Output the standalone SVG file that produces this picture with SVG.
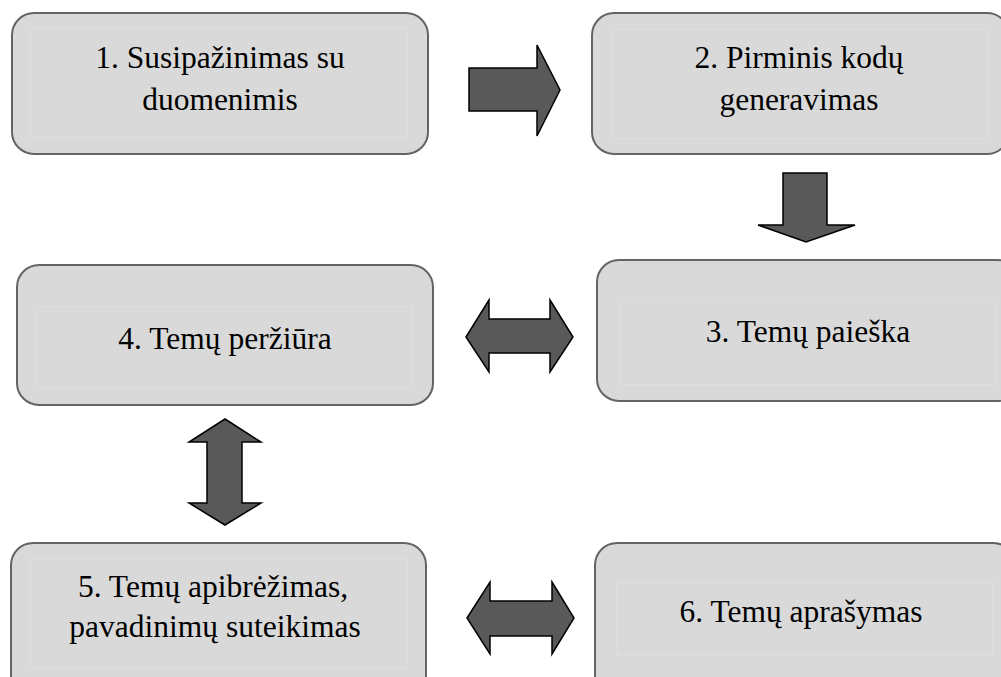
<svg xmlns="http://www.w3.org/2000/svg" width="1001" height="677" viewBox="0 0 1001 677">
<style>
.box{fill:#d9d9d9;stroke:#646464;stroke-width:2}
.inner{fill:none;stroke:#e0e0e0;stroke-width:1}
text{font-family:'Liberation Serif','Times New Roman',serif;font-size:31.5px;fill:#000;text-anchor:middle}
.arr{fill:#595959;stroke:#000;stroke-width:1.5;stroke-linejoin:miter}
</style>
<rect width="1001" height="677" fill="#fff"/>
<g id="node1">
<rect class="box" x="12" y="13" width="416" height="141" rx="22"/>
<rect class="inner" x="30" y="28" width="377" height="110"/>
<text x="220" y="68">1. Susipažinimas su</text>
<text x="220" y="110">duomenimis</text>
</g>
<g id="node2">
<rect class="box" x="592" y="13" width="417" height="141" rx="22"/>
<rect class="inner" x="611" y="29" width="377" height="110"/>
<text x="799" y="68">2. Pirminis kodų</text>
<text x="799" y="110">generavimas</text>
</g>
<g id="node3">
<rect class="box" x="597" y="260" width="422" height="141" rx="22"/>
<rect class="inner" x="620" y="302" width="376" height="83"/>
<text x="808" y="342">3. Temų paieška</text>
</g>
<g id="node4">
<rect class="box" x="17" y="265" width="416" height="140" rx="22"/>
<rect class="inner" x="37" y="307" width="376" height="81"/>
<text x="225" y="349">4. Temų peržiūra</text>
</g>
<g id="node5">
<rect class="box" x="11" y="543" width="415" height="160" rx="22"/>
<rect class="inner" x="30" y="559" width="377" height="109"/>
<text x="213" y="597">5. Temų apibrėžimas,</text>
<text x="215" y="637">pavadinimų suteikimas</text>
</g>
<g id="node6">
<rect class="box" x="595" y="543" width="420" height="160" rx="22"/>
<rect class="inner" x="617" y="583" width="376" height="72"/>
<text x="801" y="622">6. Temų aprašymas</text>
</g>
<g id="connectors">
<polygon class="arr" points="469,68 537,68 537,45 560,90 537,136 537,111 469,111"/>
<polygon class="arr" points="783,173 827,173 827,225 855,225 806,242 758,225 783,225"/>
<polygon class="arr" points="466,337 489,300 489,319 550,319 550,300 573,337 550,372 550,353 489,353 489,372"/>
<polygon class="arr" points="225,419 261,442 242,442 242,503 261,503 225,525 189,503 207,503 207,442 189,442"/>
<polygon class="arr" points="467,618 490,582 490,601 552,601 552,582 574,618 552,654 552,636 490,636 490,654"/>
</g>
</svg>
